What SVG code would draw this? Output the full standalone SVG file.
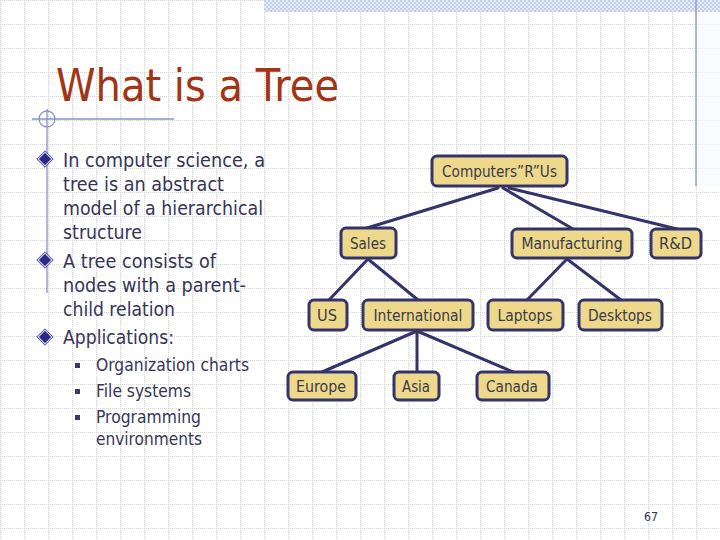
<svg xmlns="http://www.w3.org/2000/svg" width="720" height="540" viewBox="0 0 720 540">
<defs>
<pattern id="grid" patternUnits="userSpaceOnUse" width="24" height="24">
<path d="M0 0.5 H24 M0.5 0 V24" stroke="#d4d4d4" stroke-width="1" stroke-dasharray="1 1" fill="none"/>
</pattern>
<pattern id="check" patternUnits="userSpaceOnUse" width="4" height="4">
<rect width="4" height="4" fill="#e4eaf6"/>
<rect width="2" height="2" fill="#c2cde6"/>
<rect x="2" y="2" width="2" height="2" fill="#c2cde6"/>
</pattern>
<style>
.bg{fill:#ffffff}
.deco{stroke:#8694c6;stroke-width:1.3;fill:none}
.title{font-family:"DejaVu Sans","Liberation Sans",sans-serif;font-size:44px;fill:#a33416}
.body{font-family:"DejaVu Sans","Liberation Sans",sans-serif;font-size:19px;fill:#353558}
.sub{font-family:"DejaVu Sans","Liberation Sans",sans-serif;font-size:17px;fill:#353558}
.node rect{fill:#edd88b;stroke:#34346c;stroke-width:3}
.node text{font-family:"DejaVu Sans","Liberation Sans",sans-serif;font-size:16px;fill:#3a3a48;text-anchor:middle}
.edges line{stroke:#34346c;stroke-width:3;stroke-linecap:round}
.pg{font-family:"DejaVu Sans","Liberation Sans",sans-serif;font-size:13px;fill:#333344}
</style>
</defs>
<rect class="bg" x="0" y="0" width="720" height="540"/>
<rect x="0" y="0" width="720" height="540" fill="url(#grid)"/>
<rect x="264" y="0" width="456" height="12" fill="url(#check)"/>
<rect x="697" y="12" width="23" height="174" fill="#f6f8fd" opacity="0.6"/>
<line class="deco" x1="696" y1="0" x2="696" y2="186" stroke-width="1.6"/>
<line class="deco" x1="32" y1="119" x2="174" y2="119"/>
<line class="deco" x1="47" y1="109" x2="47" y2="293"/>
<circle class="deco" cx="47" cy="119" r="8"/>

<text class="title" x="56" y="101" textLength="283" lengthAdjust="spacingAndGlyphs">What is a Tree</text>

<g id="bullets">
<g fill="#2a2a86" stroke="#c8c8ec" stroke-width="1.4">
<path d="M45 152 L52 159 L45 166 L38 159 Z"/>
<path d="M45 253 L52 260 L45 267 L38 260 Z"/>
<path d="M45 330 L52 337 L45 344 L38 337 Z"/>
</g>
<g fill="none" stroke="#2a2a86" stroke-width="0.8">
<path d="M45 150.8 L53.2 159 L45 167.2 L36.8 159 Z"/>
<path d="M45 251.8 L53.2 260 L45 268.2 L36.8 260 Z"/>
<path d="M45 328.8 L53.2 337 L45 345.2 L36.8 337 Z"/>
</g>
<g fill="#3a3a6a">
<rect x="75" y="363" width="5" height="5"/>
<rect x="75" y="389" width="5" height="5"/>
<rect x="75" y="415" width="5" height="5"/>
</g>
<text class="body" x="63" y="167" textLength="202" lengthAdjust="spacingAndGlyphs">In computer science, a</text>
<text class="body" x="63" y="191" textLength="161" lengthAdjust="spacingAndGlyphs">tree is an abstract</text>
<text class="body" x="63" y="215" textLength="200" lengthAdjust="spacingAndGlyphs">model of a hierarchical</text>
<text class="body" x="63" y="239" textLength="79" lengthAdjust="spacingAndGlyphs">structure</text>
<text class="body" x="63" y="268" textLength="153" lengthAdjust="spacingAndGlyphs">A tree consists of</text>
<text class="body" x="63" y="292" textLength="183" lengthAdjust="spacingAndGlyphs">nodes with a parent-</text>
<text class="body" x="63" y="316" textLength="112" lengthAdjust="spacingAndGlyphs">child relation</text>
<text class="body" x="63" y="344" textLength="111" lengthAdjust="spacingAndGlyphs">Applications:</text>
<text class="sub" x="96" y="371" textLength="153" lengthAdjust="spacingAndGlyphs">Organization charts</text>
<text class="sub" x="96" y="397" textLength="95" lengthAdjust="spacingAndGlyphs">File systems</text>
<text class="sub" x="96" y="423" textLength="105" lengthAdjust="spacingAndGlyphs">Programming</text>
<text class="sub" x="96" y="445" textLength="106" lengthAdjust="spacingAndGlyphs">environments</text>
</g>

<g class="edges" id="connectors">
<line x1="498" y1="188" x2="367" y2="228"/>
<line x1="503" y1="188" x2="573" y2="229"/>
<line x1="509" y1="188" x2="677" y2="229"/>
<line x1="368" y1="259" x2="329" y2="300"/>
<line x1="368" y1="259" x2="418" y2="300"/>
<line x1="567" y1="259" x2="527" y2="300"/>
<line x1="567" y1="259" x2="621" y2="300"/>
<line x1="417" y1="331" x2="322" y2="372"/>
<line x1="417" y1="331" x2="417" y2="372"/>
<line x1="417" y1="331" x2="513" y2="372"/>
</g>

<g class="node" id="n-root"><rect x="432" y="156" width="135" height="30" rx="5"/><text x="499.5" y="177" textLength="115" lengthAdjust="spacingAndGlyphs">Computers”R”Us</text></g>
<g class="node" id="n-sales"><rect x="341" y="228" width="55" height="30" rx="5"/><text x="368" y="249" textLength="36" lengthAdjust="spacingAndGlyphs">Sales</text></g>
<g class="node" id="n-manufacturing"><rect x="512" y="229" width="120" height="29" rx="5"/><text x="572" y="249" textLength="101" lengthAdjust="spacingAndGlyphs">Manufacturing</text></g>
<g class="node" id="n-rd"><rect x="651" y="229" width="50" height="29" rx="5"/><text x="675.5" y="249" textLength="33" lengthAdjust="spacingAndGlyphs">R&amp;D</text></g>
<g class="node" id="n-us"><rect x="309" y="300" width="38" height="30" rx="5"/><text x="327" y="321" textLength="20" lengthAdjust="spacingAndGlyphs">US</text></g>
<g class="node" id="n-international"><rect x="363" y="300" width="110" height="30" rx="5"/><text x="418" y="321" textLength="89" lengthAdjust="spacingAndGlyphs">International</text></g>
<g class="node" id="n-laptops"><rect x="488" y="300" width="75" height="30" rx="5"/><text x="525" y="321" textLength="55" lengthAdjust="spacingAndGlyphs">Laptops</text></g>
<g class="node" id="n-desktops"><rect x="579" y="300" width="83" height="30" rx="5"/><text x="620" y="321" textLength="64" lengthAdjust="spacingAndGlyphs">Desktops</text></g>
<g class="node" id="n-europe"><rect x="288" y="372" width="68" height="28" rx="5"/><text x="321" y="392" textLength="50" lengthAdjust="spacingAndGlyphs">Europe</text></g>
<g class="node" id="n-asia"><rect x="394" y="372" width="45" height="28" rx="5"/><text x="416" y="392" textLength="28" lengthAdjust="spacingAndGlyphs">Asia</text></g>
<g class="node" id="n-canada"><rect x="477" y="372" width="72" height="28" rx="5"/><text x="512" y="392" textLength="52" lengthAdjust="spacingAndGlyphs">Canada</text></g>

<text class="pg" x="644" y="521" textLength="14" lengthAdjust="spacingAndGlyphs">67</text>
</svg>
